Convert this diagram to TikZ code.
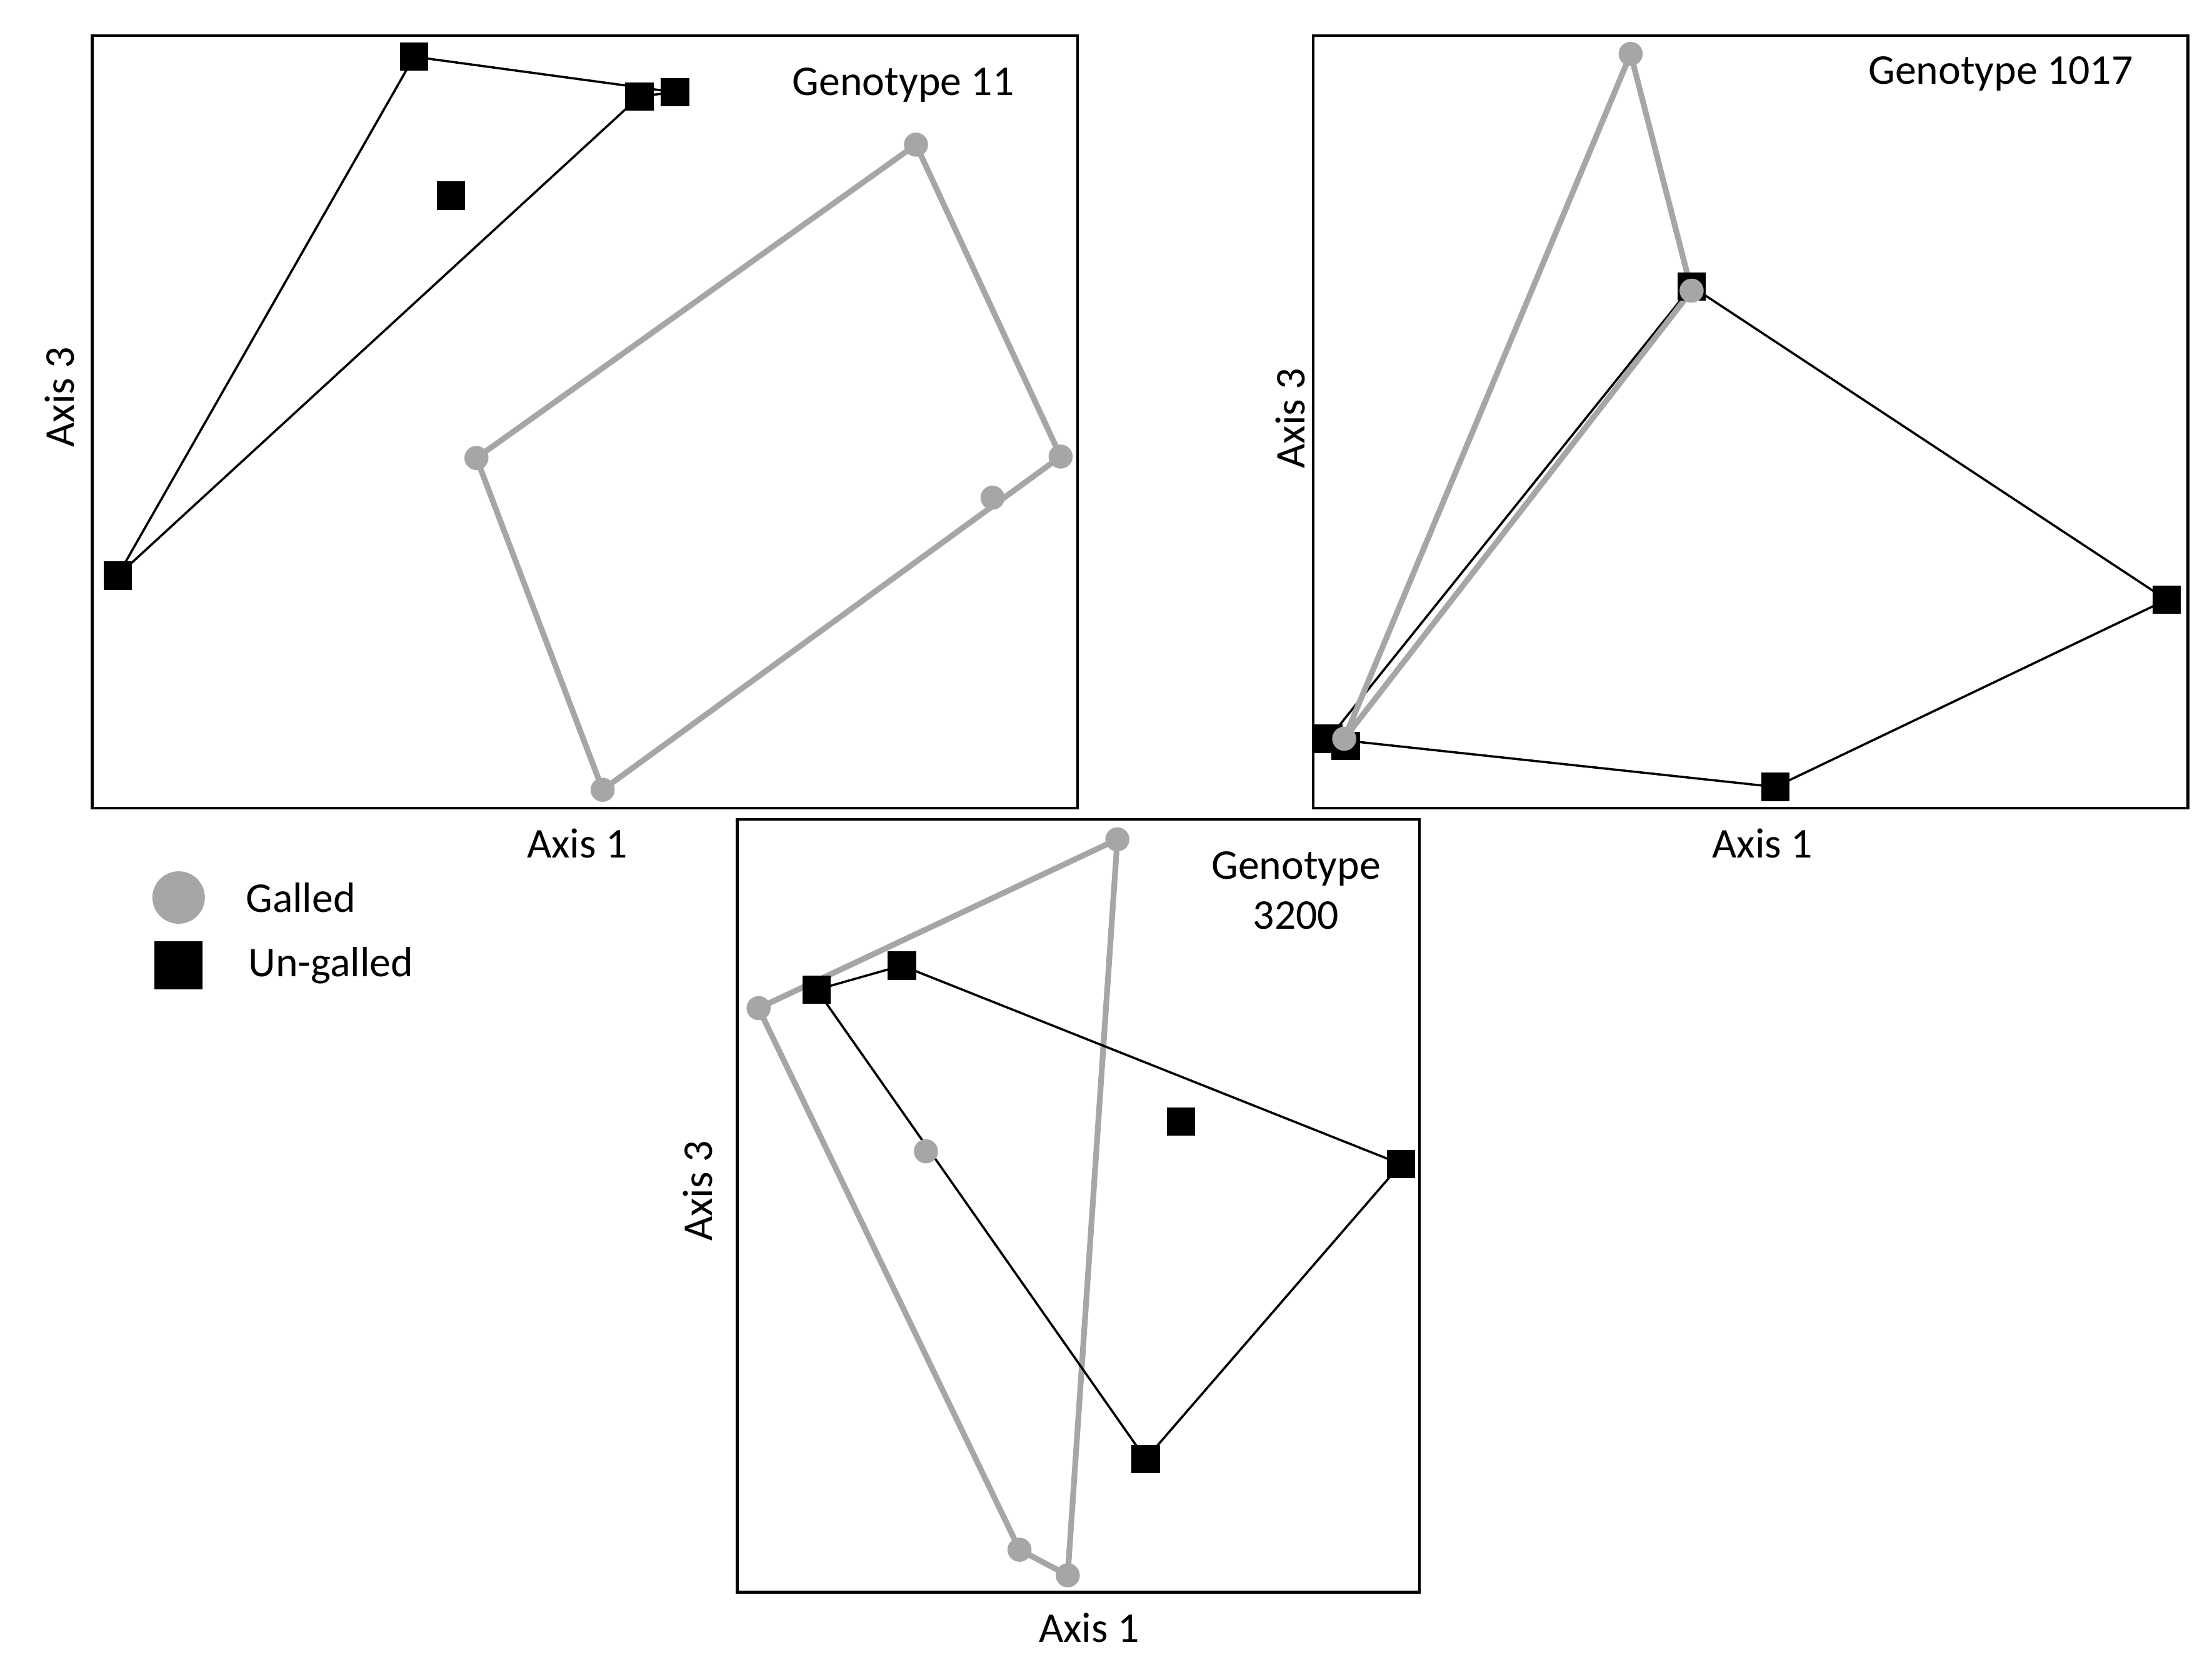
\documentclass[tikz,border=0pt]{standalone}
\usepackage{fontspec}
\setmainfont{Carlito}
\begin{document}
\begin{tikzpicture}[x=0.02cm,y=-0.02cm,
  sq/.style={fill=black,minimum size=0.4cm,inner sep=0pt,draw=none},
  ci/.style={circle,fill=gcol,minimum size=0.34cm,inner sep=0pt,draw=none},
  gl/.style={draw=gcol,line width=2.3pt,line join=round},
  bl/.style={draw=black,line width=0.9pt},
  frame/.style={draw=black,line width=1.1pt},
  lab/.style={font=\fontsize{17}{20}\selectfont,inner sep=0pt}]
\definecolor{gcol}{HTML}{A6A6A6}
\useasboundingbox (0,0) rectangle (1560,1174);
% Panel 1
\draw[frame] (65,25) rectangle (760,570);
\node[lab] (t1) at (637,60) {Genotype 11};
\node[lab,rotate=90] (y1) at (42,280) {Axis 3};
\node[lab] (x1) at (407,595) {Axis 1};
\coordinate (a1) at (292,40); \coordinate (a2) at (451,68); \coordinate (a3) at (476,65);
\coordinate (a4) at (318,138); \coordinate (a5) at (83,406);
\coordinate (g1) at (646,102); \coordinate (g2) at (748,322); \coordinate (g3) at (425,557);
\coordinate (g4) at (336,323); \coordinate (g5) at (700,351);
\draw[gl] (g1)--(g2)--(g3)--(g4)--cycle;
\draw[bl] (a1)--(a3)--(a2)--(a5)--cycle;
\foreach \p in {a1,a2,a3,a4,a5} \node[sq] at (\p) {};
\foreach \p in {g1,g2,g3,g4,g5} \node[ci] at (\p) {};
% Panel 2
\draw[frame] (926,25) rectangle (1543,570);
\node[lab] (t2) at (1411,52) {Genotype 1017};
\node[lab,rotate=90] (y2) at (910,295) {Axis 3};
\node[lab] (x2) at (1243,595) {Axis 1};
\coordinate (b1) at (1193,202); \coordinate (b2) at (1528,423); \coordinate (b3) at (1252,555);
\coordinate (b4) at (937,521); \coordinate (b5) at (949,526);
\coordinate (h1) at (1150,38); \coordinate (h2) at (1193,205); \coordinate (h3) at (948,521);
\draw[bl] (b1)--(b2)--(b3)--(b4)--cycle;
\draw[gl] (h1)--(h2)--(h3)--cycle;
\foreach \p in {b1,b2,b3,b4,b5} \node[sq] at (\p) {};
\foreach \p in {h1,h2,h3} \node[ci] at (\p) {};
% Panel 3
\draw[frame] (520,578) rectangle (1001,1123);
\node[lab,align=center] (t3) at (914,628) {Genotype\\3200};
\node[lab,rotate=90] (y3) at (492,840) {Axis 3};
\node[lab] (x3) at (768,1148) {Axis 1};
\coordinate (c1) at (576,698); \coordinate (c2) at (636,681); \coordinate (c3) at (833,791);
\coordinate (c4) at (988,821); \coordinate (c5) at (808,1029);
\coordinate (k1) at (788,592); \coordinate (k2) at (535,711); \coordinate (k3) at (653,812);
\coordinate (k4) at (719,1093); \coordinate (k5) at (753,1111);
\draw[gl] (k1)--(k5)--(k4)--(k2)--cycle;
\draw[bl] (c1)--(c2)--(c4)--(c5)--cycle;
\foreach \p in {c1,c2,c3,c4,c5} \node[sq] at (\p) {};
\foreach \p in {k1,k2,k3,k4,k5} \node[ci] at (\p) {};
% Legend
\node[circle,fill=gcol,minimum size=0.74cm,inner sep=0pt] (lg) at (126,633) {};
\node[lab,anchor=west] (lgt) at (173,633) {Galled};
\node[fill=black,minimum size=0.68cm,inner sep=0pt] (lu) at (126,681) {};
\node[lab,anchor=west] (lut) at (175,681) {Un-galled};
\end{tikzpicture}
\end{document}
